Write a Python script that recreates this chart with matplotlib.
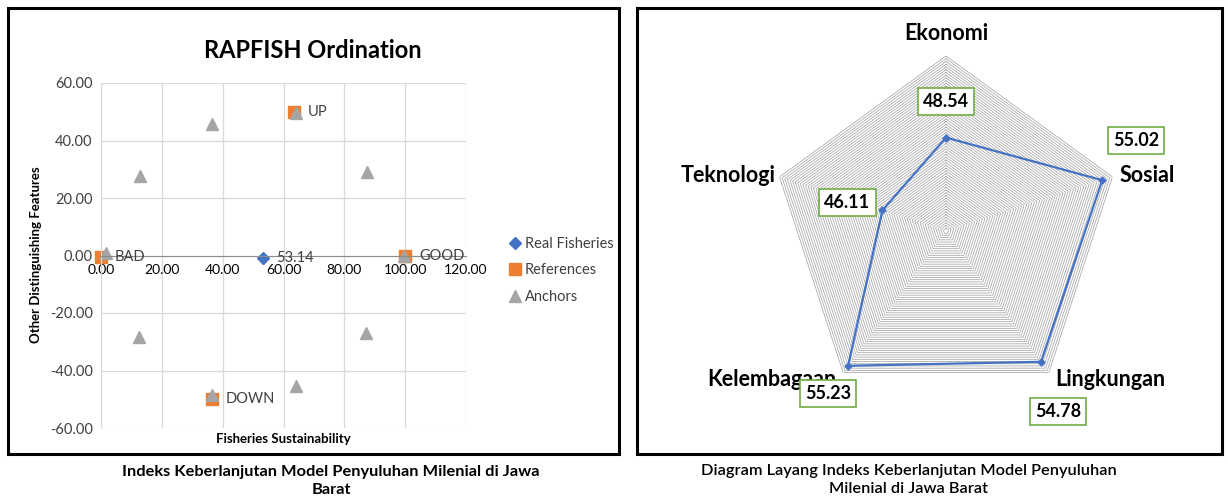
import numpy as np
import matplotlib
matplotlib.use('Agg')
import matplotlib.pyplot as plt
from matplotlib.patches import Rectangle

plt.rcParams['font.family'] = ['Lato', 'DejaVu Sans']

# --- left chart data (RAPFISH ordination) ---
real_x = [53.14]
real_y = [-0.7]
real_labels = ['53.14']

ref_x = [0.0, 100.0, 63.5, 36.5]
ref_y = [-0.5, -0.3, 50.0, -50.0]
ref_labels = ['BAD', 'GOOD', 'UP', 'DOWN']

anchor_x = [1.5, 12.8, 36.6, 64.0, 87.3, 99.5, 87.0, 64.0, 36.6, 12.6]
anchor_y = [1.0, 27.8, 45.6, 49.7, 29.2, -0.2, -26.8, -45.3, -48.5, -28.3]

x_ticks = [0, 20, 40, 60, 80, 100, 120]
y_ticks = [-60, -40, -20, 0, 20, 40, 60]

# --- right chart data (radar) ---
dimensions = ['Ekonomi', 'Sosial', 'Lingkungan', 'Kelembagaan', 'Teknologi']
scores = [48.54, 55.02, 54.78, 55.23, 46.11]
radar_min = 40
radar_max = 56

BLUE = '#4472C4'
ORANGE = '#ED7D31'
GRAY = '#A5A5A5'
GREEN = '#70AD47'
W, H = 1228, 500


def fx(px):
    return px / W


def fy(py):
    return 1 - py / H


def draw_ordination(fig):
    ax = fig.add_axes([fx(101), fy(428), fx(466) - fx(101), fy(83) - fy(428)])
    ax.set_xlim(0, 120)
    ax.set_ylim(-60, 60)
    ax.set_xticks(x_ticks)
    ax.set_yticks(y_ticks)
    ax.set_xticklabels(['%.2f' % v for v in x_ticks], fontsize=10.5, color='#404040')
    ax.set_yticklabels(['%.2f' % v for v in y_ticks], fontsize=10.5, color='#404040')
    ax.tick_params(length=0, pad=6)
    ax.grid(True, color='#D9D9D9', lw=0.9)
    ax.set_axisbelow(True)
    for s in ['top', 'right']:
        ax.spines[s].set_visible(False)
    ax.spines['bottom'].set_position(('data', 0))
    ax.spines['bottom'].set_color('#8C8C8C')
    ax.spines['left'].set_color('#D9D9D9')

    ax.plot(real_x, real_y, ls='none', marker='D', ms=6.5, color=BLUE, label='Real Fisheries', clip_on=False)
    ax.plot(ref_x, ref_y, ls='none', marker='s', ms=8, color=ORANGE, label='References', clip_on=False)
    ax.plot(anchor_x, anchor_y, ls='none', marker='^', ms=8.5, color=GRAY, label='Anchors', clip_on=False)

    for x, y, t in zip(real_x, real_y, real_labels):
        ax.annotate(t, (x, y), xytext=(13, 0), textcoords='offset pixels',
                    va='center', ha='left', fontsize=10.5, color='#404040')
    for x, y, t in zip(ref_x, ref_y, ref_labels):
        ax.annotate(t, (x, y), xytext=(14, 0), textcoords='offset pixels',
                    va='center', ha='left', fontsize=10.5, color='#404040')

    fig.text(fx(313), fy(50), 'RAPFISH Ordination', ha='center', va='center',
             fontsize=17, fontweight='bold', color='black')
    fig.text(fx(36), fy(255), 'Other Distinguishing Features', rotation=90,
             ha='center', va='center', fontsize=9.5, fontweight='bold')
    fig.text(fx(283), fy(439), 'Fisheries Sustainability', ha='center', va='center',
             fontsize=9.5, fontweight='bold')

    fig.legend(loc='upper left', bbox_to_anchor=(fx(503), fy(231)), frameon=False,
               fontsize=10.5, handlelength=0.8, handletextpad=0.3, labelspacing=0.85,
               borderaxespad=0, labelcolor='#404040')


def draw_radar(fig):
    R = 175
    cx, cy = 946, 231
    ax = fig.add_axes([fx(cx - R), fy(cy + R), 2 * R / W, 2 * R / H], projection='polar')
    ax.set_theta_offset(np.pi / 2)
    ax.set_theta_direction(-1)
    ax.set_ylim(radar_min, radar_max)
    ax.grid(False)
    ax.spines['polar'].set_visible(False)
    ax.set_xticks([])
    ax.set_yticks([])
    ax.patch.set_alpha(0)

    angles = np.linspace(0, 2 * np.pi, len(dimensions), endpoint=False)
    ang_closed = np.append(angles, angles[0])

    # dense pentagon rings like the Excel gridlines
    for r in np.arange(radar_min + 0.25, radar_max + 0.001, 0.25):
        ax.plot(ang_closed, [r] * len(ang_closed), color='#A6A6A6', lw=0.55, zorder=1)

    vals = scores + scores[:1]
    ax.plot(ang_closed, vals, color=BLUE, lw=1.6, marker='D', ms=3.5, zorder=3, clip_on=False)

    label_off = [(0, 36), (34, 40), (17, -50), (-20, -28), (-35, 8)]
    for a, v, off in zip(angles, scores, label_off):
        ax.annotate('%.2f' % v, (a, v), xytext=off, textcoords='offset pixels',
                    ha='center', va='center', fontsize=13, fontweight='bold', zorder=5,
                    bbox=dict(boxstyle='square,pad=0.28', fc='white', ec=GREEN, lw=1.2),
                    annotation_clip=False)

    cat_off = [(0, 23, 'center'), (7, 1, 'left'), (61, -7, 'center'),
               (-71, -7, 'center'), (-4, 1, 'right')]
    for a, name, (ox, oy, ha) in zip(angles, dimensions, cat_off):
        ax.annotate(name, (a, radar_max), xytext=(ox, oy), textcoords='offset pixels',
                    ha=ha, va='center', fontsize=15.5, fontweight='bold', zorder=4,
                    annotation_clip=False)


def main():
    fig = plt.figure(figsize=(12.28, 5.0), dpi=100)
    fig.patch.set_facecolor('white')

    fig.add_artist(Rectangle((fx(8), fy(454)), fx(619) - fx(8), fy(8) - fy(454),
                             transform=fig.transFigure, fill=False, ec='black', lw=2.2))
    fig.add_artist(Rectangle((fx(637), fy(454)), fx(1222) - fx(637), fy(8) - fy(454),
                             transform=fig.transFigure, fill=False, ec='black', lw=2.2))

    draw_ordination(fig)
    draw_radar(fig)

    fig.text(fx(331), fy(481), 'Indeks Keberlanjutan Model Penyuluhan Milenial di Jawa\nBarat',
             ha='center', va='center', fontsize=11.8, fontweight='bold', linespacing=1.3)
    fig.text(fx(909), fy(480), 'Diagram Layang Indeks Keberlanjutan Model Penyuluhan\nMilenial di Jawa Barat',
             ha='center', va='center', fontsize=11.8, fontweight='semibold', linespacing=1.3)

    fig.savefig('out.png', dpi=100)


if __name__ == '__main__':
    main()
